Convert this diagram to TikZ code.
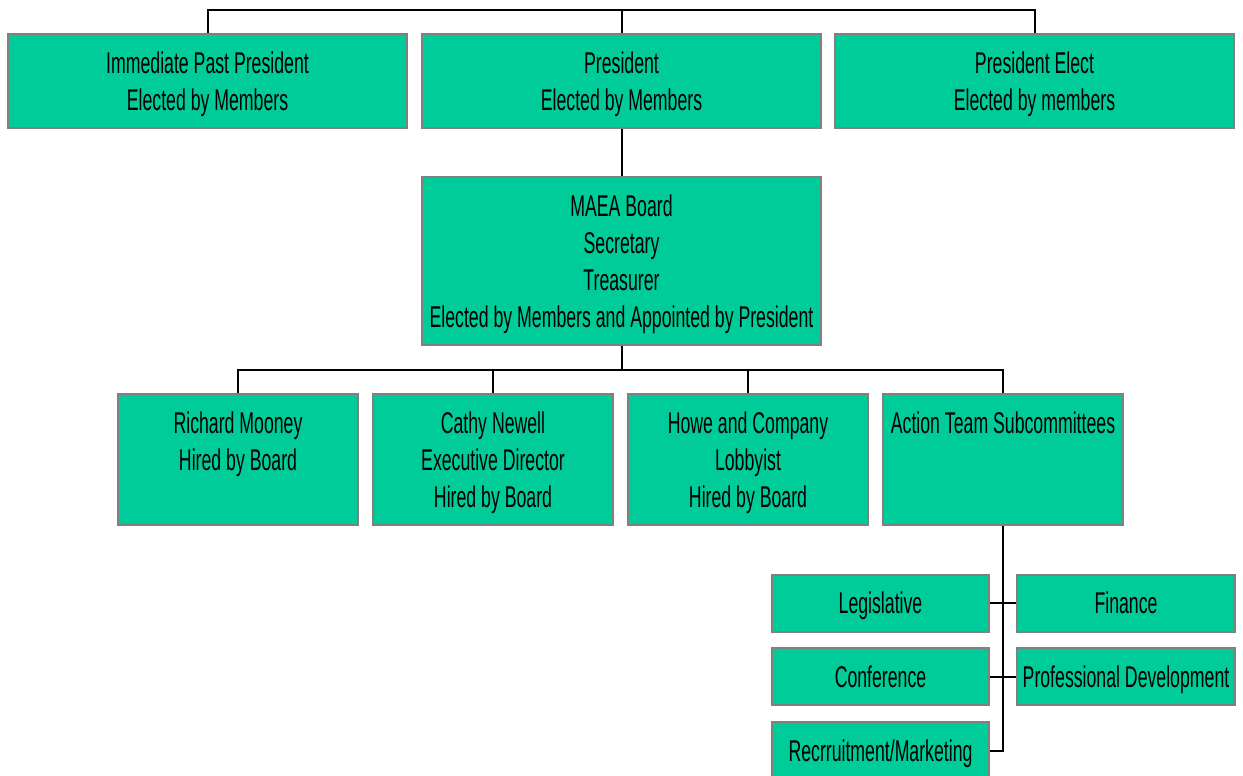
\documentclass[tikz,border=0pt]{standalone}
\usepackage{fontspec}
\setmainfont[FakeStretch=0.59]{Liberation Sans}
\definecolor{boardgreen}{HTML}{00CC99}
\definecolor{boxedge}{HTML}{808080}
\newcommand\boxstrut{\rule[-7.5pt]{0pt}{36.5pt}}

\begin{document}
\begin{tikzpicture}[x=1pt,y=-1pt,
  box/.style={draw=boxedge,line width=2pt,fill=boardgreen,inner sep=0pt,
    align=center,font=\fontsize{30}{37}\selectfont,
    execute at begin node=\boxstrut,execute at end node=\boxstrut},
  link/.style={draw=black,line width=2pt}]
  \useasboundingbox (0,0) rectangle (1243,776);
  \node[box,minimum width=399,minimum height=94] (past) at (207.5,81) {\boxstrut Immediate Past President\\Elected by Members};
  \node[box,minimum width=399,minimum height=94] (pres) at (621.5,81) {\boxstrut President\\Elected by Members};
  \node[box,minimum width=399,minimum height=94] (elect) at (1034.5,81) {\boxstrut President Elect\\Elected by members};
  \node[box,minimum width=399,minimum height=168] (board) at (621.5,261) {\boxstrut MAEA Board\\Secretary\\Treasurer\\Elected by Members and Appointed by President};
  \node[box,minimum width=240,minimum height=131] (mooney) at (238,459.5) {\boxstrut Richard Mooney\\Hired by Board\\~};
  \node[box,minimum width=240,minimum height=131] (newell) at (493,459.5) {\boxstrut Cathy Newell\\Executive Director\\Hired by Board};
  \node[box,minimum width=240,minimum height=131] (howe) at (748,459.5) {\boxstrut Howe and Company\\Lobbyist\\Hired by Board};
  \node[box,minimum width=240,minimum height=131] (action) at (1003,459.5) {\boxstrut Action Team Subcommittees\\~\\~};
  \node[box,minimum width=217,minimum height=57] (legis) at (880.5,603) {Legislative};
  \node[box,minimum width=218,minimum height=57] (finance) at (1126,603) {Finance};
  \node[box,minimum width=217,minimum height=57] (conf) at (880.5,676.5) {Conference};
  \node[box,minimum width=218,minimum height=57] (profdev) at (1126,676.5) {Professional Development};
  \node[box,minimum width=217,minimum height=57] (recruit) at (880.5,750.5) {Recrruitment/Marketing};

  \coordinate (topbar) at (621.5,10);
  \coordinate (midbar) at (621.5,370);
  \draw[link] (past.north) |- (topbar) -| (elect.north);
  \draw[link] (pres.north) -- (topbar);
  \draw[link] (pres.south) -- (board.north);
  \draw[link] (board.south) -- (midbar);
  \draw[link] (mooney.north) |- (midbar) -| (action.north);
  \draw[link] (newell.north) -- (newell.north |- midbar);
  \draw[link] (howe.north) -- (howe.north |- midbar);
  \draw[link] (action.south) |- (recruit.east);
  \draw[link] (legis.east) -- (finance.west);
  \draw[link] (conf.east) -- (profdev.west);
\end{tikzpicture}
\end{document}
